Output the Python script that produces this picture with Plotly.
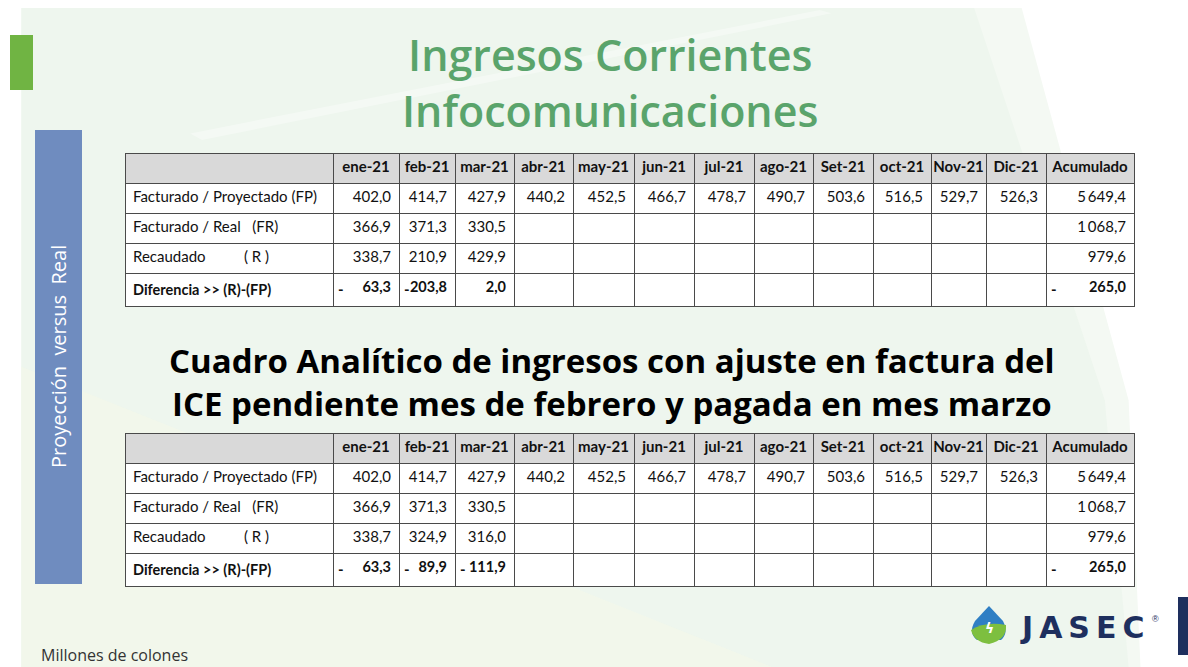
import plotly.graph_objects as go

# ---------------- data ----------------
months = ["ene-21", "feb-21", "mar-21", "abr-21", "may-21", "jun-21", "jul-21",
          "ago-21", "Set-21", "oct-21", "Nov-21", "Dic-21"]
row_labels = ["Facturado / Proyectado (FP)", "Facturado / Real   (FR)",
              "Recaudado          ( R )", "Diferencia >> (R)-(FP)"]
fp = [402.0, 414.7, 427.9, 440.2, 452.5, 466.7, 478.7, 490.7, 503.6, 516.5, 529.7, 526.3]
fr = [366.9, 371.3, 330.5]
r_t1 = [338.7, 210.9, 429.9]
diff_t1 = [-63.3, -203.8, 2.0]
r_t2 = [338.7, 324.9, 316.0]
diff_t2 = [-63.3, -89.9, -111.9]
acum_fp = 5649.4
acum_fr = 1068.7
acum_r = 979.6
acum_diff = -265.0

title_lines = ["Ingresos Corrientes", "Infocomunicaciones"]
subtitle_lines = ["Cuadro Analítico de ingresos con ajuste en factura del",
                  "ICE pendiente mes de febrero y pagada en mes marzo"]
side_label = "Proyección  versus  Real"
units_label = "Millones de colones"

# ---------------- layout constants ----------------
W, H = 1188, 667
col_w = [208, 66, 56, 59, 59, 61, 60, 60, 59, 60, 58, 55, 60, 88]
tbl_left = 125
tbl_right = tbl_left + sum(col_w)
TFONT = "Lato, Roboto, sans-serif"
TSIZE = 15
ROW_H = 30
LINE = dict(color="#4a4a4a", width=1)
ALIGN = ["left"] + ["right"] * 13


def fmt(v):
    if v is None:
        return ""
    s = f"{abs(v):,.1f}"
    ip, dp = s.split(".")
    ip = ip.replace(",", "\u2009")
    return f"{ip},{dp}"


def pad(lst, n=12):
    return list(lst) + [None] * (n - len(lst))


def build_table(r_vals, diff_vals, top_px):
    rows = [pad(fp), pad(fr), pad(r_vals)]
    acum = [acum_fp, acum_fr, acum_r]
    labels = [l.replace(" ", "\u00a0") for l in row_labels]
    columns = [labels[:3]]
    for j in range(12):
        columns.append([fmt(rows[i][j]) for i in range(3)])
    columns.append([fmt(a) for a in acum])
    xdom = [tbl_left / W, tbl_right / W]

    # header + first three rows
    main = go.Table(
        domain=dict(x=xdom, y=[1 - (top_px + 4 * ROW_H + 20) / H, 1 - top_px / H]),
        columnwidth=col_w,
        header=dict(values=[""] + months + ["Acumulado"],
                    fill_color="#d9d9d9", line=LINE, align="center", height=ROW_H,
                    font=dict(family=TFONT, size=TSIZE, color="#111111", weight="bold")),
        cells=dict(values=columns, fill_color="white", line=LINE,
                   align=ALIGN, height=ROW_H,
                   font=dict(family=TFONT, size=TSIZE, color="#111111")),
    )
    # bold difference row (drawn as a header-only table so it keeps the row height)
    diff_row = [labels[3]] + [fmt(v) for v in pad(diff_vals)] + [fmt(acum_diff)]
    top_d = top_px + 4 * ROW_H
    diff = go.Table(
        domain=dict(x=xdom, y=[1 - (top_d + ROW_H + 20) / H, 1 - top_d / H]),
        columnwidth=col_w,
        header=dict(values=diff_row, fill_color="white", line=LINE,
                    align=ALIGN, height=ROW_H,
                    font=dict(family=TFONT, size=14.5, color="#111111", weight="bold")),
        cells=dict(values=[[] for _ in diff_row], height=ROW_H, line=dict(width=0)),
    )
    # minus-sign markers (accounting format) for negative differences
    anns = []
    edges = [tbl_left]
    for w in col_w:
        edges.append(edges[-1] + w)
    diff_all = pad(diff_vals) + [acum_diff]
    for j, v in enumerate(diff_all):
        if v is not None and v < 0:
            x_left = edges[j + 1] + 3
            anns.append(dict(x=x_left / W, y=1 - (top_d + ROW_H / 2 + 1) / H,
                             xref="paper", yref="paper", text="<b>-</b>",
                             showarrow=False, xanchor="left", yanchor="middle",
                             font=dict(family=TFONT, size=TSIZE, color="#111111")))
    return [main, diff], anns


t1, a1 = build_table(r_t1, diff_t1, 153)
t2, a2 = build_table(r_t2, diff_t2, 433)

fig = go.Figure(t1 + t2)

shapes = [
    dict(type="path", xref="paper", yref="paper",
         path="M 0.018,0.0 L 0.96,0.0 L 0.95,0.4 L 0.86,0.988 L 0.018,0.988 Z",
         fillcolor="#f4f9f3", line=dict(width=0), layer="below"),
    dict(type="path", xref="paper", yref="paper",
         path="M 0.018,0.0 L 0.95,0.0 L 0.93,0.4 L 0.82,0.988 L 0.018,0.988 Z",
         fillcolor="#eef6ee", line=dict(width=0), layer="below"),
    dict(type="path", xref="paper", yref="paper",
         path="M 0.018,0.45 L 0.65,0.0 L 0.018,0.0 Z",
         fillcolor="#f3f8ea", opacity=0.8, line=dict(width=0), layer="below"),
    dict(type="path", xref="paper", yref="paper",
         path="M 0.16,0.8 L 0.69,0.985 L 0.7,0.98 L 0.17,0.79 Z",
         fillcolor="#ffffff", opacity=0.35, line=dict(width=0), layer="below"),
    # green accent bar
    dict(type="rect", xref="paper", yref="paper",
         x0=10 / W, x1=33 / W, y0=1 - 90 / H, y1=1 - 35 / H,
         fillcolor="#70b443", line=dict(width=0)),
    # blue side bar
    dict(type="rect", xref="paper", yref="paper",
         x0=35 / W, x1=82 / W, y0=1 - 584 / H, y1=1 - 130 / H,
         fillcolor="#6f8cbf", line=dict(width=0)),
    # navy bar right
    dict(type="rect", xref="paper", yref="paper",
         x0=1178 / W, x1=1188 / W, y0=1 - 655 / H, y1=1 - 597 / H,
         fillcolor="#1e2f5e", line=dict(width=0)),
    # logo drop (blue top)
    dict(type="path", xref="paper", yref="paper",
         path=f"M {989/W},{1-606/H} L {975/W},{1-621/H} Q {968/W},{1-633/H} {977/W},{1-640/H} "
              f"L {1001/W},{1-640/H} Q {1009/W},{1-633/H} {1003/W},{1-621/H} Z",
         fillcolor="#2f7fc4", line=dict(width=0)),
    # logo leaf (green bottom)
    dict(type="path", xref="paper", yref="paper",
         path=f"M {971/W},{1-630/H} Q {985/W},{1-621/H} {1006/W},{1-625/H} "
              f"Q {1007/W},{1-640/H} {989/W},{1-644/H} Q {974/W},{1-642/H} {971/W},{1-630/H} Z",
         fillcolor="#7dbf3f", line=dict(width=0)),
]

annotations = a1 + a2
annotations += [
    dict(x=610 / W, y=1 - 82 / H, xref="paper", yref="paper",
         text=title_lines[0] + "<br>" + title_lines[1],
         showarrow=False, xanchor="center", yanchor="middle",
         font=dict(family="Open Sans, Noto Sans, sans-serif", size=43, weight=600, color="#5aa46b")),
    dict(x=612 / W, y=1 - 360 / H, xref="paper", yref="paper", text="<b>" + subtitle_lines[0] + "</b>",
         showarrow=False, xanchor="center", yanchor="middle",
         font=dict(family="Open Sans, Noto Sans, sans-serif", size=33, color="#000000")),
    dict(x=612 / W, y=1 - 403 / H, xref="paper", yref="paper", text="<b>" + subtitle_lines[1] + "</b>",
         showarrow=False, xanchor="center", yanchor="middle",
         font=dict(family="Open Sans, Noto Sans, sans-serif", size=33, color="#000000")),
    dict(x=59 / W, y=1 - 357 / H, xref="paper", yref="paper", text=side_label,
         showarrow=False, xanchor="center", yanchor="middle", textangle=-90,
         font=dict(family="Open Sans, Noto Sans, sans-serif", size=20, color="#ffffff")),
    dict(x=39 / W, y=1 - 655 / H, xref="paper", yref="paper", text=units_label,
         showarrow=False, xanchor="left", yanchor="middle",
         font=dict(family="Open Sans, Noto Sans, sans-serif", size=16, color="#333333")),
    dict(x=1018 / W, y=1 - 627 / H, xref="paper", yref="paper",
         text="<b>J\u2009A\u2009S\u2009E\u2009C</b>",
         showarrow=False, xanchor="left", yanchor="middle",
         font=dict(family="DejaVu Sans, sans-serif", size=30, color="#1e2f5e")),
    dict(x=1150 / W, y=1 - 619 / H, xref="paper", yref="paper", text="®",
         showarrow=False, xanchor="left", yanchor="middle",
         font=dict(family="Liberation Sans, Arial, sans-serif", size=9, color="#1e2f5e")),
    dict(x=989 / W, y=1 - 628 / H, xref="paper", yref="paper", text="<b>ϟ</b>",
         showarrow=False, xanchor="center", yanchor="middle",
         font=dict(family="DejaVu Sans, sans-serif", size=14, color="#ffffff")),
]

fig.update_layout(
    width=W, height=H, margin=dict(l=0, r=0, t=0, b=0),
    paper_bgcolor="#ffffff", plot_bgcolor="#ffffff",
    shapes=shapes, annotations=annotations, showlegend=False,
)

fig.write_html("out.html", config={"displayModeBar": False},
               post_script="document.body.style.margin='0';")
